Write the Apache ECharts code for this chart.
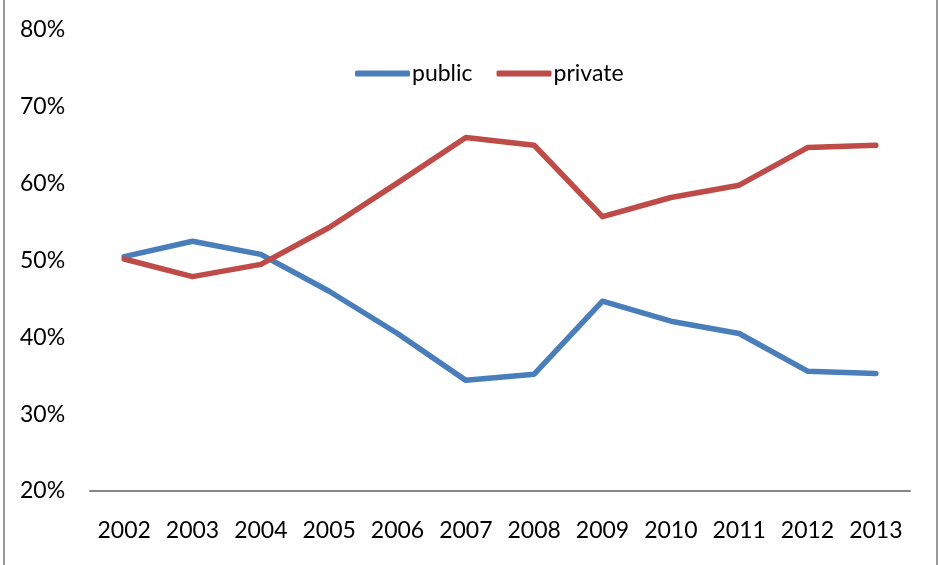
<!DOCTYPE html>
<html>
<head>
<meta charset="utf-8">
<script src="https://cdn.jsdelivr.net/npm/echarts@6/dist/echarts.min.js"></script>
<style>
  html, body { margin: 0; padding: 0; background: #fff; }
  #chart { width: 938px; height: 565px; }
</style>
</head>
<body>
<div id="chart"></div>
<script>
const years = ['2002', '2003', '2004', '2005', '2006', '2007', '2008', '2009', '2010', '2011', '2012', '2013']
const publicShare = [50.5, 52.5, 50.8, 46.0, 40.5, 34.4, 35.2, 44.7, 42.1, 40.5, 35.6, 35.3]
const privateShare = [50.2, 47.9, 49.5, 54.3, 60.1, 66.0, 65.0, 55.7, 58.2, 59.8, 64.7, 65.0]

const fontFamily = 'Lato, "Open Sans", sans-serif'
const chart = echarts.init(document.getElementById('chart'))

chart.setOption({
  animation: false,
  textStyle: { fontFamily },
  legend: {
    top: 57,
    left: 350,
    itemWidth: 55,
    itemHeight: 6,
    itemGap: 24,
    icon: 'roundRect',
    textStyle: { fontSize: 23, color: '#000', padding: [0, 0, 0, -3], fontFamily },
    data: ['public', 'private']
  },
  grid: { left: 90, right: 28, top: 30, bottom: 74 },
  xAxis: {
    type: 'category',
    data: years,
    boundaryGap: true,
    axisLine: { lineStyle: { color: '#878787', width: 2 } },
    axisTick: { show: false },
    axisLabel: { fontSize: 23, color: '#000', margin: 28, interval: 0, fontFamily }
  },
  yAxis: {
    type: 'value',
    min: 20,
    max: 80,
    interval: 10,
    axisLine: { show: false },
    axisTick: { show: false },
    splitLine: { show: false },
    axisLabel: { fontSize: 23, color: '#000', align: 'left', margin: 70, formatter: '{value}%', fontFamily }
  },
  series: [
    {
      name: 'public',
      type: 'line',
      data: publicShare,
      symbol: 'none',
      lineStyle: { color: '#4A7EBB', width: 5.5, join: 'round', cap: 'round' },
      itemStyle: { color: '#4A7EBB' }
    },
    {
      name: 'private',
      type: 'line',
      data: privateShare,
      symbol: 'none',
      lineStyle: { color: '#BE4B48', width: 5.5, join: 'round', cap: 'round' },
      itemStyle: { color: '#BE4B48' }
    }
  ],
  graphic: [
    { type: 'line', shape: { x1: 4, y1: 0, x2: 4, y2: 565 }, style: { stroke: '#999', lineWidth: 2 } },
    { type: 'line', shape: { x1: 937, y1: 0, x2: 937, y2: 565 }, style: { stroke: '#999', lineWidth: 2 } }
  ]
})
</script>
</body>
</html>
